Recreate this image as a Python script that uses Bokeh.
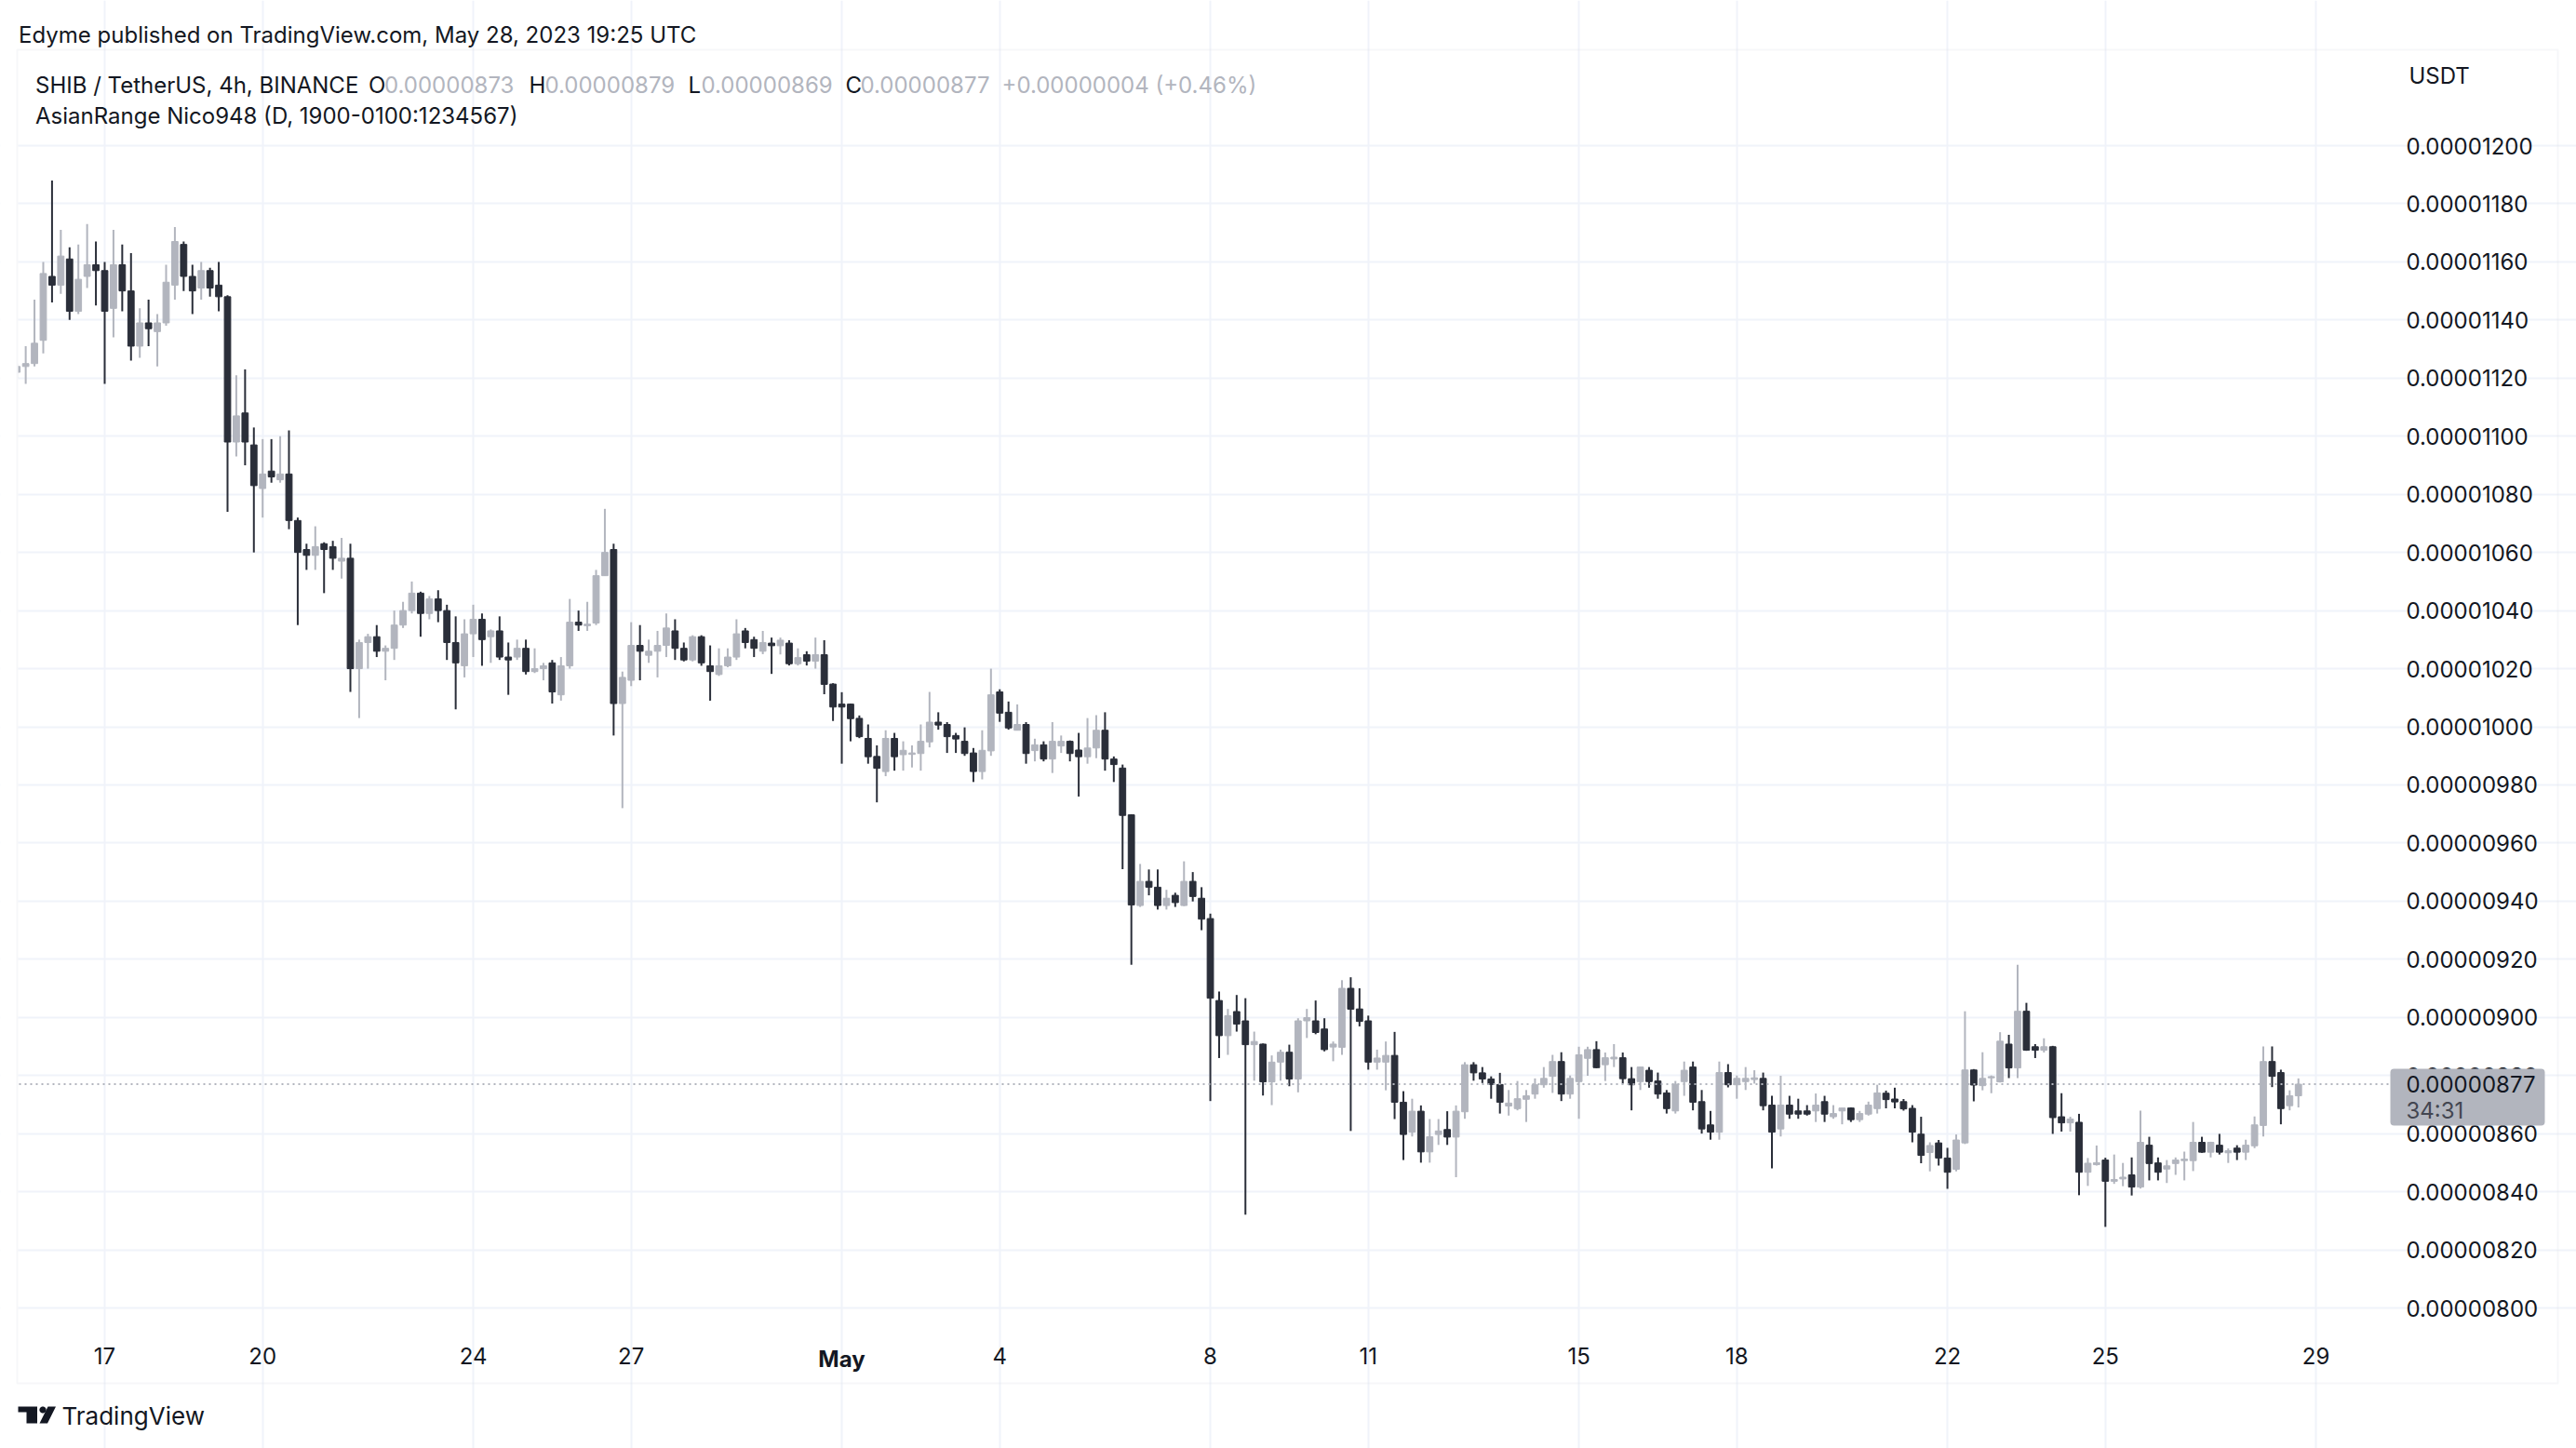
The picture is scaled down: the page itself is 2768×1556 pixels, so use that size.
import math
import numpy as np
import pandas as pd
from bokeh.plotting import figure
from bokeh.models import (ColumnDataSource, Range1d, FixedTicker, PrintfTickFormatter,
                          Label, BoxAnnotation, PolyAnnotation)
from bokeh.embed import file_html
from bokeh.resources import INLINE

# ---------------- data (prices in units of 1e-8 USDT), 4h candles ----------------
START = "2023-04-15 08:00"
UNIT = 1e-8

open_ = [
    1122, 1124, 1125, 1133, 1155, 1152, 1161, 1143, 1155, 1159,
    1157, 1144, 1159, 1150, 1131, 1139, 1136, 1139, 1152, 1166,
    1155, 1151, 1157, 1152, 1148, 1098, 1108, 1097, 1082, 1088,
    1085, 1087, 1071, 1061, 1059, 1063, 1062, 1057, 1058, 1020,
    1029, 1031, 1026, 1027, 1035, 1040, 1046, 1039, 1044, 1040,
    1029, 1021, 1032, 1037, 1031, 1033, 1024, 1024, 1027, 1019,
    1020, 1022, 1011, 1021, 1036, 1034.8, 1035.7, 1052, 1061, 1008,
    1016, 1028, 1024.6, 1026, 1028, 1033, 1027, 1023, 1031, 1021,
    1018, 1021, 1024, 1033, 1030, 1026, 1028.8, 1027.9, 1028.8, 1021.7,
    1024.8, 1022.6, 1024.8, 1014.7, 1007.8, 1007.8, 1002.9, 996, 989.8, 984.6,
    996, 990.4, 990.5, 990.8, 994.8, 1001.6, 1000.8, 997, 995, 991,
    984.6, 991.7, 1012, 1005, 998.8, 1000.8, 991.8, 993.8, 988.9, 993.4,
    995, 992, 989.7, 992.7, 998.8, 988.9, 985.8, 969.7, 938.5, 946.8,
    944.8, 938.5, 942, 938.5, 946.8, 941, 934, 905.8, 893.7, 902,
    898.8, 890.6, 890.8, 877.8, 884.6, 888, 878.8, 898.8, 898.8, 896,
    889.8, 889.7, 910, 902.9, 898.8, 884.6, 884.6, 886.9, 870.8, 860.5,
    867.7, 853.7, 859.7, 861.4, 858.8, 867.5, 883.7, 880.9, 878.8, 876.9,
    869.5, 868.6, 871.8, 873.6, 876.8, 879.7, 884.8, 873.6, 877.9, 885.9,
    888.9, 883.7, 885.7, 886.1, 878.9, 877.9, 881.8, 878.1, 874, 867.8,
    877.9, 882.9, 871, 863, 860.5, 881, 876.8, 877.9, 878.6, 879,
    869.8, 861.6, 869.8, 867.8, 867.8, 867.8, 871, 865.8, 867.8, 868.8,
    864.8, 866.7, 868.6, 873.9, 871.9, 871, 868.7, 859.8, 853.5, 856.8,
    851.6, 847.7, 856.8, 881.9, 876.5, 879.2, 877.8, 890.8, 882.6, 902.1,
    889.9, 888.7, 889.9, 865.8, 863.7, 863.9, 846.7, 849.3, 850.9, 843.6,
    844.4, 845.8, 841.6, 856, 849.9, 847.8, 849.7, 850.7, 850.7, 857,
    853.6, 856, 853.4, 855, 853.6, 855.8, 862.8, 884.8, 881, 869.6,
    873,
]

high = [
    1125, 1131, 1147, 1160, 1188, 1171, 1165, 1166, 1173, 1167,
    1160, 1171, 1166, 1163, 1144, 1147, 1142, 1159, 1172, 1167,
    1159, 1160, 1158, 1160, 1148.5, 1121, 1123, 1103, 1099, 1099,
    1100, 1102, 1072, 1063, 1069, 1063.5, 1064, 1065, 1063, 1030,
    1032, 1035, 1028, 1040, 1043, 1050, 1046.5, 1045, 1047, 1042,
    1038, 1037, 1042, 1039, 1033.5, 1038, 1029, 1030, 1030, 1027,
    1022, 1023, 1024, 1044, 1040, 1043, 1054, 1075, 1063, 1019,
    1036, 1035, 1030, 1033, 1039, 1037, 1029, 1031.5, 1031.5, 1028,
    1027, 1027, 1037, 1034, 1031, 1033, 1030.7, 1030.7, 1029.8, 1027,
    1026, 1030.7, 1029.8, 1015, 1011.9, 1008, 1003.9, 1000.8, 993.6, 998.8,
    997.9, 995, 993.6, 1000.8, 1012, 1005, 1001.6, 997.9, 999.8, 992.7,
    998.8, 1020, 1012.9, 1008.7, 1007.7, 1001.6, 995.9, 995, 1001.6, 997,
    995.3, 997.9, 1003, 1004, 1005, 989.8, 987, 969.9, 952.8, 950.9,
    950.9, 943.9, 942.9, 953.7, 950, 944.8, 935.7, 908.9, 902.9, 907.7,
    906.6, 895.1, 891, 886.9, 888.9, 890.6, 899.7, 902.9, 905.8, 899.7,
    891.7, 912.8, 913.8, 910, 900.6, 888.9, 891.7, 895, 874.6, 872,
    869.7, 865, 865, 867.7, 869.7, 884.6, 884.6, 882.9, 879.7, 880.9,
    875, 878.1, 875, 879, 882.9, 887.1, 888, 880, 889.9, 889.9,
    891.8, 887.9, 890.8, 887.9, 882.9, 882.9, 882.9, 881, 875, 878.1,
    884.8, 884.8, 875, 867.8, 884.8, 883.9, 880, 882.9, 881.8, 881,
    873, 879.9, 873, 872, 869.8, 873.8, 873, 869.8, 868.8, 869,
    867.8, 871, 876.8, 874.8, 875.8, 871.9, 869.8, 865.8, 857, 857.8,
    855.1, 859.7, 902.1, 882.2, 888, 880, 894.9, 894, 918.1, 905,
    890.8, 892.8, 890.2, 873.9, 865.8, 866.8, 851.6, 855.9, 851.7, 852.8,
    849.9, 851.8, 867.9, 858.9, 851.8, 850.9, 851.8, 853.8, 864, 858.9,
    857.2, 859.9, 854.9, 856, 857.9, 865.9, 890, 890, 882, 874.9,
    879,
]

low = [
    1120, 1118, 1124, 1128.5, 1146, 1149, 1140, 1142, 1151, 1145,
    1118, 1134, 1143, 1126, 1127, 1131, 1124, 1138, 1147, 1150,
    1142, 1147, 1148, 1143, 1074, 1093, 1090, 1060, 1072, 1084,
    1084, 1068, 1035, 1054, 1054, 1046, 1054, 1051, 1012, 1003,
    1020, 1024, 1016, 1023, 1034, 1039, 1031, 1037, 1036, 1023,
    1006, 1017, 1024, 1021, 1022, 1023, 1011, 1023, 1018, 1018.5,
    1016, 1008, 1009, 1020, 1033, 1033, 1035, 1052, 997, 972,
    1014, 1016, 1022, 1017, 1024, 1023, 1022.5, 1022.5, 1021, 1009,
    1017.5, 1020.5, 1023, 1027, 1024, 1025, 1018.2, 1024.9, 1021.1, 1021.1,
    1021.1, 1020, 1011.2, 1002, 987.3, 995, 996.1, 987.3, 974, 983,
    984.9, 984.9, 986, 984.9, 992.9, 999, 991, 991, 990, 981,
    981.9, 990, 1001.7, 999, 998.8, 987.3, 988.1, 988.1, 984.1, 991,
    988.1, 976, 987.3, 989.2, 984.9, 981, 951, 918.1, 938, 942,
    937.1, 937.1, 938, 938.3, 939.9, 930, 871.2, 886, 887.1, 895.1,
    832.1, 878.2, 873.1, 869.8, 878.2, 876.3, 874.2, 892.9, 894.2, 888.3,
    884.9, 887.1, 860.9, 896.9, 882, 882, 874.9, 865, 850.9, 859,
    850, 850, 856.1, 856.1, 845, 865.1, 878.2, 877.4, 872, 866.9,
    866.2, 868, 864, 872, 875.8, 874, 871.2, 872, 865.1, 879.9,
    882.5, 878.1, 882.9, 877.2, 868, 875, 875.8, 872, 866.9, 866.9,
    873, 868, 860, 857.9, 857.9, 875.9, 872, 875, 877.2, 868,
    848, 859, 865.1, 865.1, 866.2, 864, 864, 865.1, 863.2, 864,
    864, 866.2, 866.9, 868.7, 868.7, 867.9, 857, 849.8, 847, 849,
    841, 847, 856.4, 871.1, 874.9, 873.9, 877.6, 879.1, 879.1, 888.5,
    886, 887.9, 859.9, 860.7, 860.7, 838.8, 842, 849, 827.9, 842.7,
    841.9, 838.7, 841.1, 843.9, 843.9, 843, 845.8, 843.9, 847.1, 853.4,
    851.8, 852.8, 849.9, 850.9, 850.9, 855, 859, 876, 863.2, 868,
    869,
]

close = [
    1124, 1125, 1132, 1156, 1152, 1162, 1143, 1154, 1159, 1157,
    1143, 1159, 1150, 1131, 1139, 1137, 1139, 1153, 1167, 1155,
    1150, 1157, 1151, 1148, 1098, 1107, 1098, 1083, 1087, 1086,
    1087, 1071, 1060, 1059, 1062, 1061, 1058, 1058, 1020, 1029,
    1031, 1026, 1027, 1035, 1040, 1046, 1039, 1044, 1040, 1029,
    1022, 1032, 1037, 1030, 1033, 1024, 1023, 1027, 1019, 1020,
    1021, 1012, 1021, 1036, 1035, 1035.3, 1052, 1060, 1008, 1017,
    1028, 1026, 1026, 1028, 1034, 1027, 1023, 1031, 1022, 1019,
    1021, 1024, 1032, 1029, 1027, 1029, 1027.9, 1029.8, 1021.7, 1023.8,
    1022.6, 1024.8, 1014.6, 1006.8, 1006.8, 1002.8, 996.6, 989.7, 985.7, 996,
    989.7, 991.9, 991, 995, 1001.6, 1000.6, 996.6, 995.8, 990.8, 984.6,
    991.9, 1011, 1004.7, 999.6, 1000.8, 990.8, 993.8, 988.9, 995, 995,
    990.8, 989.7, 992.7, 998.8, 988.9, 987, 969.5, 938.7, 946.8, 944.8,
    938.5, 941, 939.5, 946.8, 941.6, 933.8, 906.6, 893.7, 900.6, 897.7,
    890.6, 891.7, 877.8, 884.6, 888, 878.8, 898.8, 899.9, 894.8, 888.9,
    890.8, 910, 902.8, 898.6, 884.6, 886, 886.9, 870.8, 859.7, 867.7,
    853.7, 858.9, 860.9, 858.8, 867.7, 883.7, 880.9, 878.8, 876.9, 870.8,
    870.5, 872, 873, 876.8, 879, 884.8, 873.6, 879, 887.1, 888.9,
    882.7, 886.1, 886.3, 878.9, 876.8, 882.9, 877.9, 873.6, 868.6, 877,
    881.8, 870.8, 861.6, 860.5, 881, 876.8, 879, 879, 879.2, 869.6,
    860.5, 869.8, 866.7, 866.7, 866.7, 869.8, 866.7, 866.9, 868.8, 864.8,
    866.9, 869.8, 874, 871.7, 870.9, 868.5, 860.5, 852.5, 855.9, 851.6,
    846.7, 857.8, 881.9, 876.7, 879, 879.6, 891.8, 882.6, 902.1, 888.7,
    888.7, 889.9, 865.5, 863.7, 865, 846.7, 849.8, 850, 843.6, 844.2,
    845, 841.6, 857, 849.7, 846.7, 848.9, 850.9, 851.2, 857, 853.6,
    857, 853.6, 854.1, 853.6, 856, 863, 884.8, 879.7, 868.6, 873,
    877,
]

tick_days = ["2023-04-17", "2023-04-20", "2023-04-24", "2023-04-27", "2023-05-01",
             "2023-05-04", "2023-05-08", "2023-05-11", "2023-05-15", "2023-05-18",
             "2023-05-22", "2023-05-25", "2023-05-29"]
tick_labels = ["17", "20", "24", "27", "May", "4", "8", "11", "15", "18", "22", "25", "29"]
price_ticks = list(range(800, 1201, 20))

# ---------------- styling / layout (pixel positions on the 2768x1556 page) ----------------
FONT = "Inter"
TEXT = "#131722"
UP = "#b2b5be"
DOWN = "#2a2e39"
GRID = "#f0f3fa"
BORDER = "#e0e3eb"

W, H = 2768, 1556
PLOT_L, PLOT_R, PLOT_T, PLOT_B = 20, 2568, 54, 1430   # candle pane in page pixels
BAR_PX = 9.429          # pixels per 4h bar
BAR0_X = 17.7           # pixel x of first bar
PX_PER_UNIT = 3.1225    # pixels per 1e-8 USDT
Y800 = 1405             # pixel y of the 0.00000800 line

def ms(ts):
    return pd.Timestamp(ts).value / 1e6

BAR_MS = 4 * 3600 * 1000
t0 = ms(START)

def xdata(X):   # page pixel x -> time (ms)
    return t0 + (X - BAR0_X) / BAR_PX * BAR_MS

def ydata(Y):   # page pixel y -> price
    return (800 + (Y800 - Y) / PX_PER_UNIT) * UNIT

times = pd.date_range(START, periods=len(open_), freq="4h")
o = np.array(open_) * UNIT
h = np.array(high) * UNIT
l = np.array(low) * UNIT
c = np.array(close) * UNIT
up = c >= o

def src(mask):
    return ColumnDataSource(dict(
        t=times[mask], h=h[mask], l=l[mask],
        top=np.maximum(o, c)[mask], bot=np.minimum(o, c)[mask]))

p = figure(width=W, height=H, output_backend="svg", toolbar_location=None,
           x_axis_type="datetime", y_axis_location="right",
           x_range=Range1d(xdata(0), xdata(W)), y_range=Range1d(ydata(H), ydata(0)),
           min_border=0, min_border_left=0, min_border_right=0,
           min_border_top=0, min_border_bottom=0)
p.outline_line_color = None
p.background_fill_color = "white"
p.border_fill_color = "white"

tick_ms = [ms(d) for d in tick_days]
p.xaxis.ticker = FixedTicker(ticks=tick_ms)
p.xaxis.major_label_overrides = {t: (lab if lab != "May" else "") for t, lab in zip(tick_ms, tick_labels)}
p.xaxis.fixed_location = ydata(PLOT_B)
p.yaxis.ticker = FixedTicker(ticks=[v * UNIT for v in price_ticks])
p.yaxis.formatter = PrintfTickFormatter(format="%.8f")
p.yaxis.fixed_location = xdata(PLOT_R)

for ax in p.axis:
    ax.axis_line_color = None
    ax.major_tick_line_color = None
    ax.minor_tick_line_color = None
    ax.major_tick_out = 0
    ax.major_tick_in = 0
    ax.minor_tick_out = 0
    ax.minor_tick_in = 0
    ax.major_label_text_font = FONT
    ax.major_label_text_font_size = "24px"
    ax.major_label_text_color = TEXT
p.yaxis.major_label_standoff = 17
p.xaxis.major_label_standoff = 17

p.grid.grid_line_color = GRID
p.grid.grid_line_width = 2
p.xgrid.bounds = (ydata(PLOT_B), ydata(PLOT_T))
p.ygrid.bounds = (xdata(PLOT_L), xdata(PLOT_R))

# candles
for mask, col in ((up, UP), (~up, DOWN)):
    s = src(mask)
    p.segment(x0="t", y0="h", x1="t", y1="l", source=s, line_color=col, line_width=2)
    p.vbar(x="t", top="top", bottom="bot", width=0.72 * BAR_MS, source=s,
           fill_color=col, line_color=col, line_width=1)

# last price dotted line across the candle pane
p.segment(x0=[xdata(PLOT_L)], x1=[xdata(PLOT_R)], y0=[c[-1]], y1=[c[-1]],
          line_color=UP, line_dash="2 4", line_width=2)

def lab(text, X, Y, size="24px", color=TEXT, bold=False, align="left"):
    p.add_layout(Label(x=X, y=H - Y, x_units="screen", y_units="screen",
                       text=text, text_font=FONT, text_font_size=size, text_color=color,
                       text_baseline="middle", text_align=align,
                       text_font_style="bold" if bold else "normal"))

def box(L, R, T, B, **kw):
    p.add_layout(BoxAnnotation(left=L, right=R, top=H - T, bottom=H - B,
                               left_units="screen", right_units="screen",
                               top_units="screen", bottom_units="screen", **kw))

# hide the part of the first bar left of the pane, then the outer chart border
box(0, PLOT_L - 1, PLOT_T, PLOT_B, fill_color="white", fill_alpha=1, line_color=None)
box(18, 2748, 53, 1486, fill_alpha=0, line_color=BORDER, line_width=2)

# header and legend
lab("Edyme published on TradingView.com, May 28, 2023 19:25 UTC", 19.6, 36.7)
lab("SHIB / TetherUS, 4h, BINANCE", 37.5, 90.7)
fmt = lambda v: f"{v * UNIT:.8f}"
chg = close[-1] - close[-2]
pct = chg / close[-2] * 100
for letter, lx, val, vx in (("O", 395.5, open_[-1], 412.5), ("H", 568, high[-1], 585),
                            ("L", 739, low[-1], 753), ("C", 908, close[-1], 924)):
    lab(letter, lx, 90.7)
    lab(fmt(val), vx, 90.7, color=UP)
lab(f"{'+' if chg >= 0 else '-'}{abs(chg) * UNIT:.8f} ({'+' if chg >= 0 else '-'}{abs(pct):.2f}%)",
    1076, 90.7, color=UP)
lab("AsianRange Nico948 (D, 1900-0100:1234567)", 37.5, 124)
lab("USDT", 2588, 80.6)

# bold month label on the time axis
may_i = tick_labels.index("May")
p.add_layout(Label(x=tick_ms[may_i], y=H - 1460, x_units="data", y_units="screen", text="May",
                   text_font=FONT, text_font_size="24px", text_color=TEXT,
                   text_font_style="bold", text_align="center", text_baseline="middle"))

# last price tag on the price scale
box(2568, 2734, 1148, 1209, fill_color=UP, fill_alpha=1, line_color=None, border_radius=4)
lab(fmt(close[-1]), 2585, 1164)
lab("34:31", 2585, 1193, color="#434651")

# TradingView logo
def poly(pts):
    p.add_layout(PolyAnnotation(xs=[x for x, _ in pts], ys=[H - y for _, y in pts],
                                xs_units="screen", ys_units="screen",
                                fill_color=TEXT, fill_alpha=1, line_color=None))

poly([(19, 1511), (39.5, 1511), (39.5, 1529), (28, 1529), (28, 1517), (19, 1517)])
poly([(45.5 + 3.6 * math.cos(a), 1514.5 + 3.6 * math.sin(a))
      for a in np.linspace(0, 2 * math.pi, 24, endpoint=False)])
poly([(51, 1511), (59.5, 1511), (50.5, 1529), (42, 1529)])
lab("TradingView", 66, 1521, size="26px")

open("out.html", "w").write(file_html(p, INLINE))
